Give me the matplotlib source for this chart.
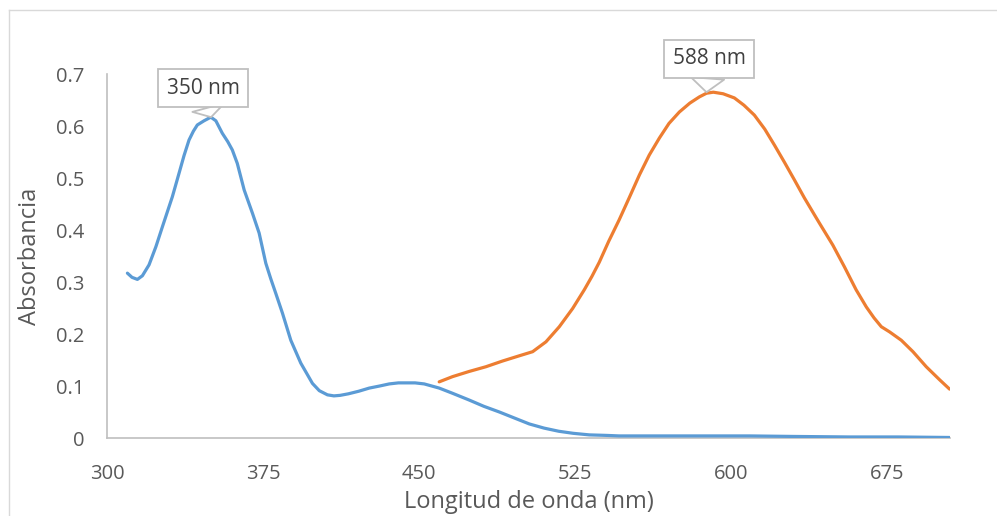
import matplotlib.pyplot as plt
from matplotlib.lines import Line2D

# Absorbance spectra
wl_blue = [309.8, 312, 314.6, 317, 320.2, 323.5, 326.6, 329, 331.4, 334.6, 337, 339.4,
           341.5, 343.4, 346.6, 349.9, 352.3, 355.4, 358, 360.2, 362.6, 365.9, 369.9,
           373.1, 376.3, 378.7, 381.1, 384.3, 388.3, 393.1, 398.7, 402, 405.9, 409,
           412, 416, 421, 426, 431, 435.6, 440, 443.8, 448, 452.4, 456, 459.6, 466,
           474, 481, 488.5, 496, 502.9, 510, 517, 524, 531.7, 540, 546, 560, 584.6,
           608.7, 630, 656.7, 680, 704.8]
abs_blue = [0.317, 0.309, 0.305, 0.312, 0.333, 0.368, 0.406, 0.435, 0.464, 0.509, 0.543,
            0.573, 0.590, 0.602, 0.610, 0.617, 0.610, 0.586, 0.570, 0.554, 0.528, 0.477,
            0.432, 0.394, 0.336, 0.306, 0.278, 0.240, 0.188, 0.144, 0.105, 0.091, 0.083,
            0.081, 0.082, 0.085, 0.090, 0.096, 0.100, 0.104, 0.106, 0.106, 0.106, 0.104,
            0.100, 0.096, 0.086, 0.073, 0.061, 0.050, 0.038, 0.027, 0.019, 0.013, 0.009,
            0.006, 0.005, 0.004, 0.004, 0.004, 0.004, 0.003, 0.002, 0.002, 0.001]

wl_orange = [459.6, 466, 474, 482, 490, 498, 504.5, 510.9, 517.3, 523.7, 529.3, 533,
             536.5, 541, 546, 551, 555.8, 560.5, 565.4, 570, 575, 580, 584.6, 588,
             591.3, 596, 601.4, 606, 611, 616, 620.7, 625.5, 630.3, 635, 639.9, 642.3,
             648.7, 654.3, 659.9, 664.8, 668.5, 672, 676, 681.6, 687.2, 693.6, 700,
             704.8]
abs_orange = [0.108, 0.118, 0.128, 0.137, 0.148, 0.158, 0.166, 0.185, 0.214, 0.249,
              0.285, 0.311, 0.338, 0.378, 0.419, 0.463, 0.506, 0.544, 0.577, 0.605,
              0.627, 0.644, 0.656, 0.663, 0.665, 0.662, 0.654, 0.640, 0.621, 0.594,
              0.563, 0.530, 0.496, 0.462, 0.429, 0.413, 0.371, 0.329, 0.285, 0.252,
              0.231, 0.214, 0.204, 0.188, 0.166, 0.137, 0.112, 0.094]

peak_labels = ['350 nm', '588 nm']
peak_x = [350, 588]
peak_y = [0.617, 0.665]
label_x = [346.2, 589.2]
label_y = [0.673, 0.729]

x_ticks = [300, 375, 450, 525, 600, 675]
y_ticks = [0, 0.1, 0.2, 0.3, 0.4, 0.5, 0.6, 0.7]

plt.rcParams['font.family'] = ['Open Sans', 'DejaVu Sans']

fig = plt.figure(figsize=(9.97, 5.16), dpi=100)
ax = fig.add_axes([107 / 997, 1 - 438 / 516, (950 - 107) / 997, (438 - 74) / 516])

ax.plot(wl_blue, abs_blue, color='#5B9BD5', lw=2.3, solid_capstyle='round',
        solid_joinstyle='round', zorder=3)
ax.plot(wl_orange, abs_orange, color='#ED7D31', lw=2.3, solid_capstyle='round',
        solid_joinstyle='round', zorder=3)

ax.set_xlim(300, 705)
ax.set_ylim(0, 0.7)
ax.set_xticks(x_ticks)
ax.set_yticks(y_ticks)
ax.set_xticklabels([str(t) for t in x_ticks])
ax.set_yticklabels(['0' if t == 0 else f'{t:.1f}' for t in y_ticks])
ax.tick_params(length=0, labelsize=14.5, labelcolor='#595959')
ax.tick_params(axis='x', pad=19)
ax.tick_params(axis='y', pad=16)

for side in ['top', 'right']:
    ax.spines[side].set_visible(False)
for side in ['left', 'bottom']:
    ax.spines[side].set_color('#BFBFBF')
    ax.spines[side].set_linewidth(1.2)

ax.set_xlabel('Longitud de onda (nm)', fontsize=17, color='#595959', labelpad=4)
ax.set_ylabel('Absorbancia', fontsize=17, color='#595959', labelpad=10)

# callout labels on the two peaks
for lab, px, py, tx, ty in zip(peak_labels, peak_x, peak_y, label_x, label_y):
    ax.annotate(lab, xy=(px, py), xytext=(tx, ty),
                ha='center', va='center', fontsize=15, color='#404040',
                bbox=dict(boxstyle='square,pad=0.4', fc='white', ec='#BFBFBF', lw=1.3),
                arrowprops=dict(arrowstyle='wedge,tail_width=1.6,shrink_factor=0.5',
                                fc='white', ec='#BFBFBF', lw=1.3, shrinkA=0, shrinkB=0),
                zorder=5, annotation_clip=False)

# chart area border (partly cropped in the reference)
fig.add_artist(Line2D([8.5 / 997, 8.5 / 997], [0, 1 - 10 / 516],
                      transform=fig.transFigure, color='#D9D9D9', lw=1))
fig.add_artist(Line2D([8.5 / 997, 1], [1 - 10 / 516, 1 - 10 / 516],
                      transform=fig.transFigure, color='#D9D9D9', lw=1))

fig.savefig('out.png', dpi=100)
